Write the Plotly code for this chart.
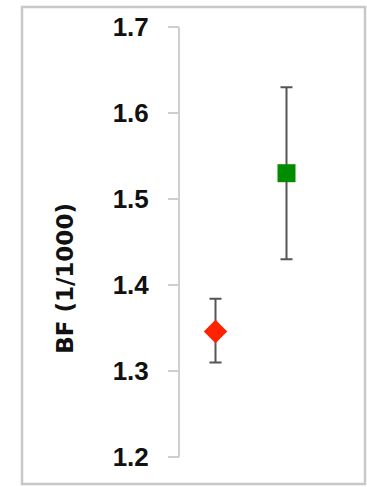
import plotly.graph_objects as go

# Data
categories = [1, 2]
values = [1.346, 1.530]
err_plus = [0.038, 0.100]
err_minus = [0.036, 0.100]
symbols = ["diamond", "square"]
colors = ["#ff2200", "#008c00"]
tick_vals = [1.2, 1.3, 1.4, 1.5, 1.6, 1.7]
tick_text = ["1.2", "1.3", "1.4", "1.5", "1.6", "1.7"]
y_title = "BF (1/1000)"

fig = go.Figure()
for i in range(len(categories)):
    fig.add_trace(go.Scatter(
        x=[categories[i]], y=[values[i]], mode="markers",
        marker=dict(symbol=symbols[i], color=colors[i], size=18, line=dict(width=0)),
        error_y=dict(type="data", symmetric=False, array=[err_plus[i]], arrayminus=[err_minus[i]],
                     color="#555555", thickness=2, width=6),
        showlegend=False, hoverinfo="skip"))

fig.add_trace(go.Scatter(x=categories, y=values, yaxis="y2", mode="markers",
                         marker=dict(opacity=0), showlegend=False, hoverinfo="skip"))

axis_col = "#cfcfcf"
fig.update_layout(
    width=367, height=487,
    margin=dict(l=180, r=45, t=25, b=30),
    paper_bgcolor="white", plot_bgcolor="white",
    xaxis=dict(range=[0.5, 2.5], visible=False),
    yaxis=dict(range=[1.2, 1.7], tickvals=tick_vals, ticktext=tick_text,
               showline=True, linecolor=axis_col, linewidth=2,
               ticks="outside", ticklen=10, tickwidth=2, tickcolor=axis_col,
               showgrid=False, zeroline=False, ticklabelstandoff=14,
               tickfont=dict(family="Liberation Sans", size=26, color="#111111", weight="bold")),
    yaxis2=dict(range=[1.2, 1.7], overlaying="y", anchor="x", side="left",
                tickmode="array", tickvals=tick_vals, showticklabels=False, ticks="outside", ticklen=10,
                tickwidth=2, tickcolor=axis_col,
                showline=False, showgrid=False, zeroline=False),
    shapes=[dict(type="rect", xref="paper", yref="paper",
                 x0=-1.1127, x1=1.3028, y0=-0.0625, y1=1.0463,
                 line=dict(color="#c8c8c8", width=2.5))],
    annotations=[dict(text="<b>" + y_title + "</b>", xref="paper", yref="paper",
                      x=-0.81, y=0.4167, textangle=-90, showarrow=False,
                      xanchor="center", yanchor="middle",
                      font=dict(family="DejaVu Sans", size=23, color="#111111"))],
)

fig.write_html("out.html")
